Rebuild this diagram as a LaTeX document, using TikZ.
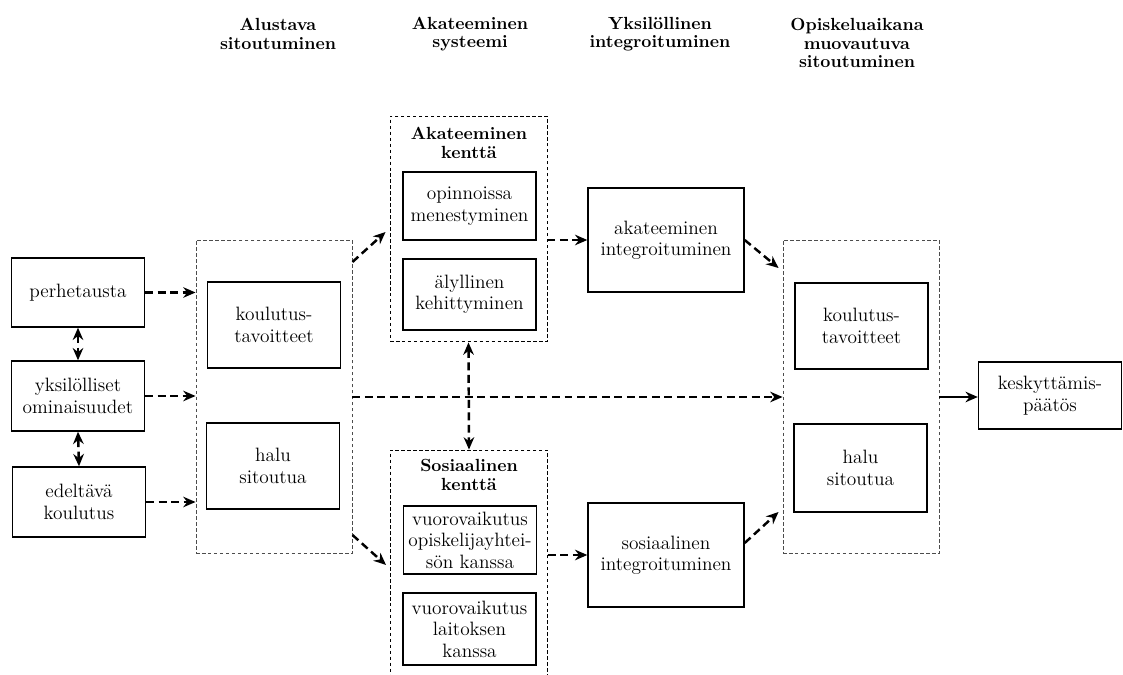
\documentclass[tikz,border=0pt]{standalone}
\usepackage{fontspec}
\usetikzlibrary{arrows.meta,calc}

\begin{document}
\begin{tikzpicture}[x=0.02cm, y=-0.02cm,
    every node/.style={font=\fontsize{11}{12.2}\selectfont, align=center, inner sep=0pt},
    box/.style={draw, line width=0.8pt, minimum width=2.66cm},
    frame/.style={draw, line width=0.55pt, dash pattern=on 2pt off 1.4pt, minimum width=3.12cm},
    head/.style={font=\fontsize{10}{10.6}\selectfont\bfseries},
    flow/.style={line width=1.4pt, dash pattern=on 4.5pt off 2.6pt, -{Stealth[length=7pt,width=6pt]}},
    twoway/.style={flow, {Stealth[length=7pt,width=6pt]}-{Stealth[length=7pt,width=6pt]}}]
    \useasboundingbox (0,0) rectangle (1123,675);

    \node[head] (h1) at (278,34) {Alustava\\sitoutuminen};
    \node[head] (h2) at (470,34) {Akateeminen\\systeemi};
    \node[head] (h3) at (660,34) {Yksilöllinen\\integroituminen};
    \node[head] (h4) at (857,43) {Opiskeluaikana\\muovautuva\\sitoutuminen};

    \node[box, minimum height=1.38cm] (perhe) at (78,292.5) {perhetausta};
    \node[box, minimum height=1.4cm] (yksil) at (78,396) {yksilölliset\\ominaisuudet};
    \node[box, minimum height=1.4cm] (edel) at (79,502) {edeltävä\\koulutus};

    \node[frame, draw=black!70, minimum height=6.28cm] (alus) at (274,397) {};
    \node[box, minimum height=1.72cm] (tav1) at (274,325) {koulutus-\\tavoitteet};
    \node[box, minimum height=1.72cm] (halu1) at (273,466) {halu\\sitoutua};

    \node[frame, minimum width=3.14cm, minimum height=4.52cm] (akk) at (468.5,229) {};
    \node[head] (akklab) at (469,143) {Akateeminen\\kenttä};
    \node[box, minimum height=1.36cm] (opin) at (469.5,206) {opinnoissa\\menestyminen};
    \node[box, minimum height=1.42cm] (aly) at (469.5,294.5) {älyllinen\\kehittyminen};

    \node[frame, minimum width=3.14cm, minimum height=5cm] (sos) at (469,575) {};
    \node[head] (soslab) at (469,475) {Sosiaalinen\\kenttä};
    \node[box, minimum height=1.36cm] (vuoro1) at (470,540) {vuorovaikutus\\opiskelijayhtei-\\sön kanssa};
    \node[box, minimum height=1.44cm] (vuoro2) at (469.5,629) {vuorovaikutus\\laitoksen\\kanssa};

    \node[box, minimum width=3.12cm, minimum height=2.08cm] (akint) at (666,240) {akateeminen\\integroituminen};
    \node[box, minimum width=3.12cm, minimum height=2.08cm] (sosint) at (666,555) {sosiaalinen\\integroituminen};

    \node[frame, draw=black!70, minimum height=6.28cm] (oma) at (861,397) {};
    \node[box, minimum height=1.72cm] (tav2) at (861.5,326) {koulutus-\\tavoitteet};
    \node[box, minimum height=1.76cm] (halu2) at (860.5,468) {halu\\sitoutua};

    \node[box, minimum width=2.86cm, minimum height=1.34cm] (kesk) at (1050,395.5) {keskyttämis-\\päätös};

    \draw[flow] (perhe.east) -- (perhe.east -| alus.west);
    \draw[flow] (yksil.east) -- (yksil.east -| alus.west);
    \draw[flow] (edel.east) -- (edel.east -| alus.west);
    \draw[twoway] (perhe.south) -- (yksil.north);
    \draw[twoway] (yksil.south) -- (edel.north);

    \draw[flow] ($(alus.east)+(0,-135)$) -- ($(akk.west)+(-4,3)$);
    \draw[flow] ($(alus.east)+(0,138)$) -- ($(sos.west)+(-4,-10)$);
    \draw[flow] (alus.east) -- (oma.west);
    \draw[twoway] (akk.south) -- (sos.north);

    \draw[flow] (akk.east |- akint.west) -- (akint.west);
    \draw[flow] (sos.east |- sosint.west) -- (sosint.west);
    \draw[flow] (akint.east) -- ($(oma.west)+(-4,-129)$);
    \draw[flow] ($(sosint.east)+(0,-12)$) -- ($(oma.west)+(-4,115)$);
    \draw[-{Stealth[length=7pt,width=6pt]}, line width=1.4pt] (oma.east) -- (oma.east -| kesk.west);
\end{tikzpicture}
\end{document}
